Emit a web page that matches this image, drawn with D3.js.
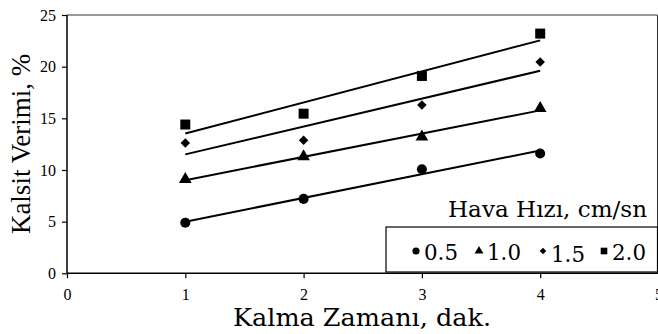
<!DOCTYPE html>
<html lang="en">
<head>
  <meta charset="UTF-8">
  <script src="https://d3js.org/d3.v7.min.js"></script>
  <style>
    body { margin: 0; background: #fff; }
    svg text { font-family: 'Liberation Serif', serif; fill: #000; }
    svg text.pal { font-family: 'DejaVu Serif', serif; }
  </style>
</head>
<body>
<div id="chart"></div>
<script>
const times = [1, 2, 3, 4];
const series = [
  { name: '0.5', symbol: d3.symbolCircle, values: [4.9, 7.2, 10.07, 11.6] },
  { name: '1.0', symbol: d3.symbolTriangle, values: [9.1, 11.3, 13.2, 15.97] },
  { name: '1.5', symbol: d3.symbolSquare, values: [12.6, 12.87, 16.3, 20.45] },
  { name: '2.0', symbol: d3.symbolSquare, values: [14.4, 15.45, 19.1, 23.2] }
];
const xTicks = [0, 1, 2, 3, 4, 5];
const yTicks = [0, 5, 10, 15, 20, 25];

const width = 658, height = 334;
const plotLeft = 67, plotRight = 658.5, plotTop = 15, plotBottom = 273.3;
const serif = "'Liberation Serif', serif";

const svg = d3.select('#chart').append('svg')
  .attr('width', width)
  .attr('height', height);

const x = d3.scaleLinear().domain([0, 5]).range([plotLeft, plotRight]);
const y = d3.scaleLinear().domain([0, 25]).range([plotBottom, plotTop]);

// frame
svg.append('line').attr('x1', plotLeft).attr('x2', plotRight - 1).attr('y1', plotTop).attr('y2', plotTop)
  .attr('stroke', '#333').attr('stroke-width', 1);
svg.append('line').attr('x1', plotRight - 1).attr('x2', plotRight - 1).attr('y1', plotTop).attr('y2', plotBottom)
  .attr('stroke', '#333').attr('stroke-width', 1);

// axes
const yAxis = svg.append('g')
  .attr('transform', `translate(${plotLeft},0)`)
  .call(d3.axisLeft(y).tickValues(yTicks).tickFormat(d3.format('d')).tickSize(5).tickPadding(6));
const xAxis = svg.append('g')
  .attr('transform', `translate(0,${plotBottom})`)
  .call(d3.axisBottom(x).tickValues(xTicks).tickFormat(d3.format('d')).tickSize(5).tickPadding(10));
[xAxis, yAxis].forEach(g => {
  g.attr('font-family', serif);
  g.select('.domain').attr('stroke', '#000').attr('stroke-width', 1.5);
  g.selectAll('.tick line').attr('stroke', '#000').attr('stroke-width', 1.2);
  g.selectAll('.tick text').style('font-family', serif).style('font-size', '16px').attr('fill', '#000');
});
yAxis.select('.domain').attr('d', `M0,${plotBottom}V${plotTop}`);
xAxis.select('.domain').attr('d', `M${plotLeft},0H${plotRight}`);

// trend lines (least squares)
series.forEach(s => {
  const mx = d3.mean(times), my = d3.mean(s.values);
  const b = d3.sum(times, (t, i) => (t - mx) * (s.values[i] - my)) / d3.sum(times, t => (t - mx) ** 2);
  const a = my - b * mx;
  svg.append('line')
    .attr('x1', x(1)).attr('y1', y(a + b * 1))
    .attr('x2', x(4)).attr('y2', y(a + b * 4))
    .attr('stroke', '#000').attr('stroke-width', 2);
});

// markers
const sizes = { '0.5': 80, '1.0': 70, '1.5': 45, '2.0': 100 };
const rot = { '0.5': 0, '1.0': 0, '1.5': 45, '2.0': 0 };
series.forEach(s => {
  svg.selectAll(null)
    .data(times)
    .enter()
    .append('path')
    .attr('d', d3.symbol().type(s.symbol).size(sizes[s.name]))
    .attr('transform', (t, i) => `translate(${x(t)},${y(s.values[i])}) rotate(${rot[s.name]})`)
    .attr('fill', '#000');
});

// legend
svg.append('text')
  .attr('class', 'pal')
  .attr('x', 448).attr('y', 217)
  .attr('textLength', 199).attr('lengthAdjust', 'spacingAndGlyphs')
  .style('font-size', '23px')
  .text('Hava Hızı, cm/sn');
svg.append('rect')
  .attr('x', 386).attr('y', 227)
  .attr('width', 271.5).attr('height', 45)
  .attr('fill', '#fff').attr('stroke', '#000').attr('stroke-width', 1.2);
const legendX = [416, 479, 543, 604];
const legendDy = [0, 0, 2, 0];
const legendSize = { '0.5': 40, '1.0': 34, '1.5': 22, '2.0': 44 };
series.forEach((s, i) => {
  svg.append('path')
    .attr('d', d3.symbol().type(s.symbol).size(legendSize[s.name]))
    .attr('transform', `translate(${legendX[i]},${251}) rotate(${rot[s.name]})`)
    .attr('fill', '#000');
  svg.append('text')
    .attr('class', 'pal')
    .attr('x', legendX[i] + 8).attr('y', 260 + legendDy[i])
    .attr('textLength', 34).attr('lengthAdjust', 'spacingAndGlyphs')
    .style('font-size', '23px')
    .text(s.name);
});

// axis titles
svg.append('text')
  .attr('class', 'pal')
  .attr('x', 233).attr('y', 326)
  .attr('textLength', 258).attr('lengthAdjust', 'spacingAndGlyphs')
  .style('font-size', '24px')
  .text('Kalma Zamanı, dak.');
svg.append('text')
  .attr('transform', `translate(30,144) rotate(-90)`)
  .attr('text-anchor', 'middle')
  .style('font-size', '27px')
  .text('Kalsit Verimi, %');
</script>
</body>
</html>
